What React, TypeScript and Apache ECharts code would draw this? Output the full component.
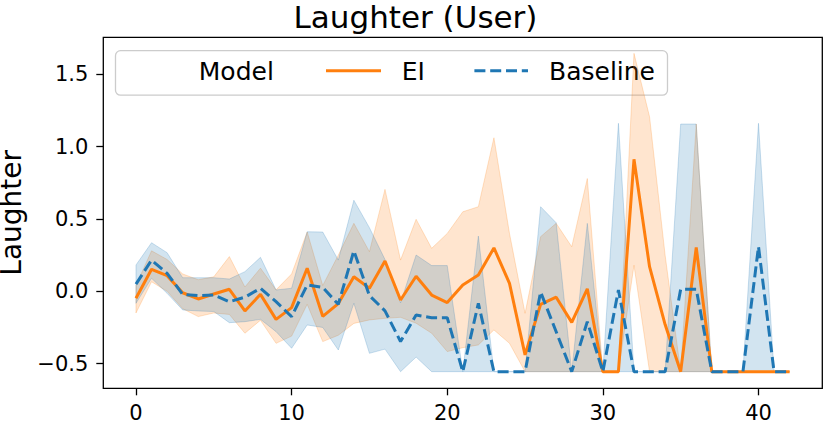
import React, { useEffect, useRef } from "react";
import * as echarts from "echarts";

const FLOOR = -0.556;
const steps: number[] = Array.from({ length: 43 }, (_, i) => i);

const eiMean = [
  -0.048, 0.152, 0.108, -0.01, -0.053, -0.019, 0.014, -0.136, -0.021, -0.194,
  -0.113, 0.159, -0.173, -0.085, 0.101, 0.021, 0.21, -0.06, 0.104, -0.026,
  -0.078, 0.044, 0.113, 0.3, 0.055, -0.44, -0.09, -0.041, -0.215, 0.017,
  FLOOR, FLOOR, 0.913, 0.17, -0.23, FLOOR, 0.304, FLOOR, FLOOR, FLOOR,
  FLOOR, FLOOR, FLOOR,
];
const eiUpper = [
  0.04, 0.28, 0.22, 0.12, 0.08, 0.1, 0.24, 0.03, 0.16, 0.01,
  0.12, 0.41, 0.04, 0.25, 0.47, 0.274, 0.705, 0.216, 0.498, 0.297,
  0.4, 0.55, 0.585, 1.062, 0.4, -0.152, 0.378, 0.47, 0.308, 0.78,
  FLOOR, FLOOR, 1.646, 1.207, 0.25, FLOOR, 1.157, FLOOR, FLOOR, FLOOR,
  FLOOR, FLOOR, FLOOR,
];
const eiLower = [
  -0.15, 0.066, 0.0, -0.12, -0.175, -0.15, -0.16, -0.29, -0.2, -0.36,
  -0.31, -0.09, -0.348, -0.304, -0.222, -0.198, -0.187, -0.18, -0.221, -0.29,
  -0.417, -0.39, -0.371, -0.267, -0.36, FLOOR, FLOOR, FLOOR, FLOOR, FLOOR,
  FLOOR, FLOOR, 0.18, FLOOR, FLOOR, FLOOR, FLOOR, FLOOR, FLOOR, FLOOR,
  FLOOR, FLOOR, FLOOR,
];
const baseMean = [
  0.05, 0.216, 0.124, -0.021, -0.03, -0.026, -0.072, -0.041, 0.021, -0.072,
  -0.175, 0.044, 0.027, -0.09, 0.28, -0.03, -0.135, -0.348, -0.164, -0.183,
  -0.183, FLOOR, -0.083, FLOOR, FLOOR, FLOOR, -0.005, -0.28, FLOOR, -0.21,
  FLOOR, 0.009, FLOOR, FLOOR, FLOOR, 0.014, 0.014, FLOOR, FLOOR, FLOOR,
  0.309, FLOOR, FLOOR,
];
const baseUpper = [
  0.182, 0.336, 0.267, 0.094, 0.094, 0.094, 0.085, 0.136, 0.235, 0.009,
  0.021, 0.412, 0.41, 0.216, 0.63, 0.44, 0.22, -0.08, 0.251, 0.178,
  0.178, FLOOR, 0.382, FLOOR, FLOOR, FLOOR, 0.585, 0.474, FLOOR, 0.47,
  FLOOR, 1.162, FLOOR, FLOOR, FLOOR, 1.157, 1.157, FLOOR, FLOOR, FLOOR,
  1.162, FLOOR, FLOOR,
];
const baseLower = [
  -0.083, 0.09, -0.014, -0.129, -0.136, -0.14, -0.217, -0.21, -0.194, -0.279,
  -0.394, -0.233, -0.25, -0.406, -0.083, -0.429, -0.4, FLOOR, -0.455, FLOOR,
  FLOOR, FLOOR, FLOOR, FLOOR, FLOOR, FLOOR, FLOOR, FLOOR, FLOOR, FLOOR,
  FLOOR, FLOOR, FLOOR, FLOOR, FLOOR, FLOOR, FLOOR, FLOOR, FLOOR, FLOOR,
  FLOOR, FLOOR, FLOOR,
];

const xTicks = [0, 10, 20, 30, 40];
const yTicks = [-0.5, 0, 0.5, 1.0, 1.5];
const legendTitle = "Model";
const seriesNames = ["EI", "Baseline"];

const FONT = "DejaVu Sans";
const ORANGE = "#ff7f0e";
const BLUE = "#1f77b4";

function band(name: string, upper: number[], lower: number[], rgb: string) {
  return {
    type: "custom",
    name,
    z: 1,
    silent: true,
    data: [[0, 0]],
    encode: { x: 0, y: 1 },
    renderItem: (params: any, api: any) => {
      if (params.dataIndex !== 0) return null;
      const pts: number[][] = [];
      for (let i = 0; i < steps.length; i++) pts.push(api.coord([steps[i], upper[i]]));
      for (let i = steps.length - 1; i >= 0; i--) pts.push(api.coord([steps[i], lower[i]]));
      return {
        type: "polygon",
        shape: { points: pts },
        style: {
          fill: `rgba(${rgb},0.2)`,
          stroke: `rgba(${rgb},0.22)`,
          lineWidth: 1,
        },
      };
    },
  };
}

export default function App() {
  const ref = useRef<HTMLDivElement>(null);
  useEffect(() => {
    document.body.style.margin = "0";
    if (!ref.current) return;
    const chart = echarts.init(ref.current, null, { renderer: "svg" });
    const fmt = (v: number) => (v < 0 ? "\u2212" : "") + Math.abs(v).toFixed(1);
    chart.setOption({
      animation: false,
      backgroundColor: "#ffffff",
      textStyle: { fontFamily: FONT },
      title: {
        text: "Laughter (User)",
        left: "center",
        top: 1,
        padding: 0,
        textStyle: { fontFamily: FONT, fontSize: 31, fontWeight: "normal", color: "#000" },
      },
      grid: {
        left: 103.3,
        right: 8.7,
        top: 37.3,
        bottom: 35.7,
        containLabel: false,
        outerBoundsMode: "none",
        show: true,
        borderColor: "#000",
        borderWidth: 1.3,
        backgroundColor: "transparent",
      },
      xAxis: {
        type: "value",
        min: -2.1,
        max: 44.1,
        splitLine: { show: false },
        axisLine: { show: false, onZero: false },
        axisTick: {
          show: true,
          length: 7,
          customValues: xTicks,
          lineStyle: { color: "#000", width: 1.3 },
        },
        axisLabel: {
          customValues: xTicks,
          fontFamily: FONT,
          fontSize: 21,
          color: "#000",
          margin: 14,
        },
      },
      yAxis: {
        type: "value",
        min: -0.671,
        max: 1.757,
        name: "Laughter",
        nameLocation: "middle",
        nameRotate: 90,
        nameGap: 71,
        nameTextStyle: { fontFamily: FONT, fontSize: 28, color: "#000", lineHeight: 30 },
        splitLine: { show: false },
        axisLine: { show: false, onZero: false },
        axisTick: {
          show: true,
          length: 7,
          customValues: yTicks,
          lineStyle: { color: "#000", width: 1.3 },
        },
        axisLabel: {
          customValues: yTicks,
          formatter: fmt,
          fontFamily: FONT,
          fontSize: 21,
          color: "#000",
          margin: 15,
        },
      },
      series: [
        band(seriesNames[0] + " band", eiUpper, eiLower, "255,127,14"),
        band(seriesNames[1] + " band", baseUpper, baseLower, "31,119,180"),
        {
          type: "line",
          name: seriesNames[0],
          z: 2,
          showSymbol: false,
          data: steps.map((x, i) => [x, eiMean[i]]),
          lineStyle: { color: ORANGE, width: 3 },
          itemStyle: { color: ORANGE },
        },
        {
          type: "line",
          name: seriesNames[1],
          z: 3,
          showSymbol: false,
          data: steps.map((x, i) => [x, baseMean[i]]),
          lineStyle: { color: BLUE, width: 3, type: [11, 4.8] },
          itemStyle: { color: BLUE },
        },
      ],
      graphic: [
        {
          type: "group",
          z: 100,
          children: [
            {
              type: "rect",
              shape: { x: 115.5, y: 50.7, width: 552, height: 44.5, r: 5 },
              style: { fill: "rgba(255,255,255,0.8)", stroke: "#cccccc", lineWidth: 1.3 },
            },
            {
              type: "text",
              x: 198.8,
              y: 71.5,
              style: {
                text: legendTitle,
                fontFamily: FONT,
                fontSize: 25,
                fill: "#000",
                verticalAlign: "middle",
                align: "left",
              },
            },
            {
              type: "line",
              shape: { x1: 326, y1: 70.7, x2: 381, y2: 70.7 },
              style: { stroke: ORANGE, lineWidth: 3 },
            },
            {
              type: "text",
              x: 401.7,
              y: 71.5,
              style: {
                text: seriesNames[0],
                fontFamily: FONT,
                fontSize: 25,
                fill: "#000",
                verticalAlign: "middle",
                align: "left",
              },
            },
            {
              type: "line",
              shape: { x1: 474.4, y1: 70.7, x2: 528, y2: 70.7 },
              style: { stroke: BLUE, lineWidth: 3, lineDash: [11, 4.8] },
            },
            {
              type: "text",
              x: 549,
              y: 71.5,
              style: {
                text: seriesNames[1],
                fontFamily: FONT,
                fontSize: 25,
                fill: "#000",
                verticalAlign: "middle",
                align: "left",
              },
            },
          ],
        },
      ],
    });
    return () => chart.dispose();
  }, []);
  return <div ref={ref} style={{ width: 831, height: 424 }} />;
}
